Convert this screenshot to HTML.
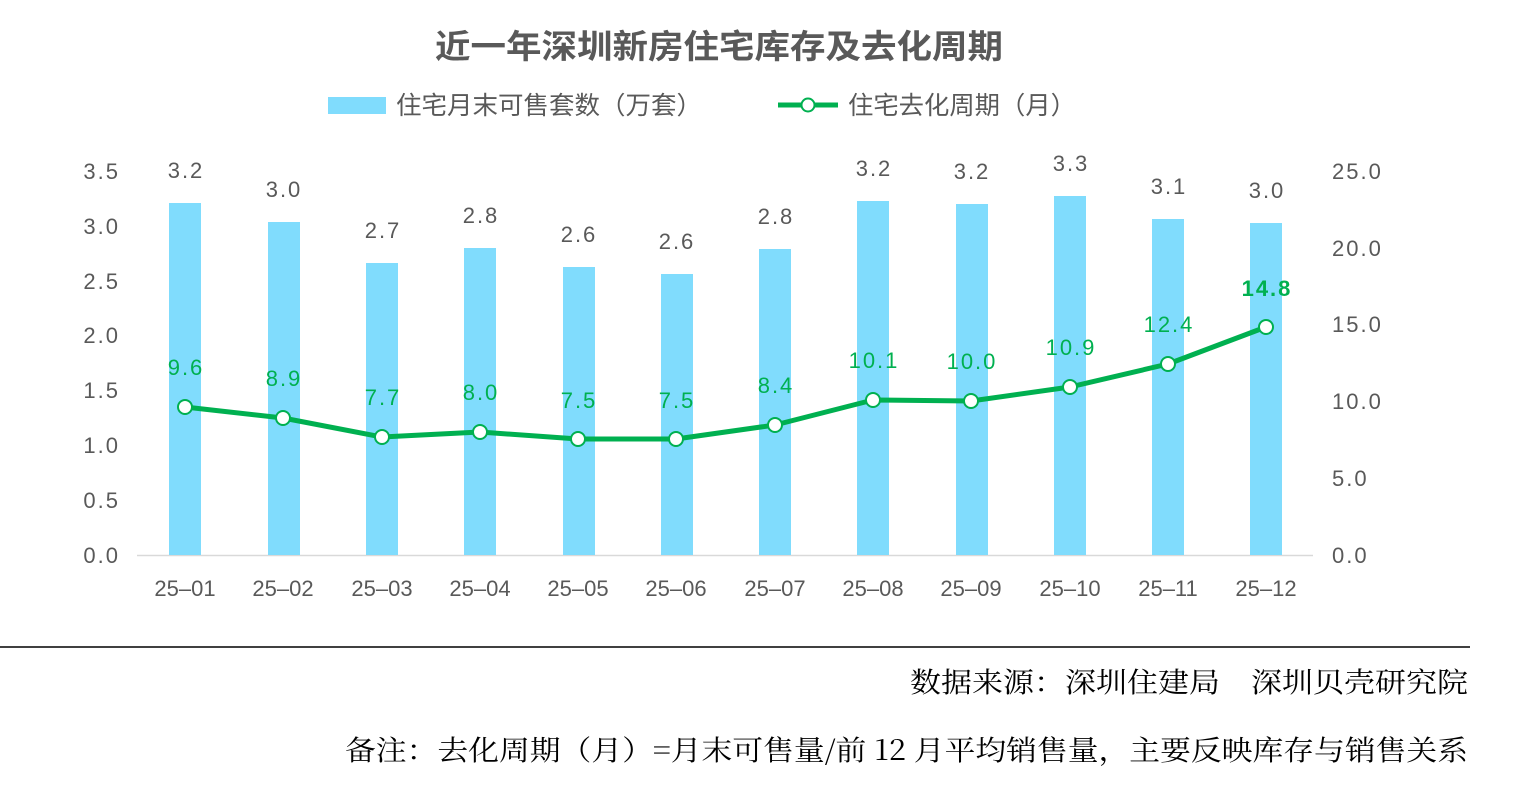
<!DOCTYPE html>
<html><head><meta charset="utf-8"><style>
body{margin:0;background:#fff;width:1520px;height:794px;overflow:hidden}
</style></head><body>
<svg width="1520" height="794" xmlns="http://www.w3.org/2000/svg" style="position:absolute;left:0;top:0">
<g font-family="Liberation Sans, Noto Sans CJK SC, sans-serif">
<text x="435" y="58" textLength="568" lengthAdjust="spacingAndGlyphs" font-size="33" font-weight="bold" fill="#595959" font-family="Noto Sans CJK SC, sans-serif">近一年深圳新房住宅库存及去化周期</text>
<rect x="328" y="97" width="58" height="17" fill="#80dcfd"/>
<text x="396" y="114" textLength="306" lengthAdjust="spacingAndGlyphs" font-size="25" fill="#595959" font-family="Noto Sans CJK SC, sans-serif">住宅月末可售套数（万套）</text>
<line x1="778" y1="105" x2="838" y2="105" stroke="#00b050" stroke-width="5"/>
<circle cx="808" cy="105" r="6.5" fill="#fff" stroke="#00b050" stroke-width="2"/>
<text x="848" y="114" textLength="228" lengthAdjust="spacingAndGlyphs" font-size="25" fill="#595959" font-family="Noto Sans CJK SC, sans-serif">住宅去化周期（月）</text>
<g font-size="22" fill="#595959" letter-spacing="2" text-anchor="end">
<text x="120" y="563">0.0</text><text x="120" y="508">0.5</text><text x="120" y="453">1.0</text><text x="120" y="398">1.5</text><text x="120" y="343">2.0</text><text x="120" y="289">2.5</text><text x="120" y="234">3.0</text><text x="120" y="179">3.5</text>
</g>
<g font-size="22" fill="#595959" letter-spacing="2">
<text x="1332" y="563">0.0</text><text x="1332" y="486">5.0</text><text x="1332" y="409">10.0</text><text x="1332" y="332">15.0</text><text x="1332" y="256">20.0</text><text x="1332" y="179">25.0</text>
</g>
<line x1="137" y1="555.5" x2="1313" y2="555.5" stroke="#d9d9d9" stroke-width="1.5"/>
<g fill="#80dcfd">
<rect x="169" y="203" width="32" height="352"/>
<rect x="268" y="222" width="32" height="333"/>
<rect x="366" y="263" width="32" height="292"/>
<rect x="464" y="248" width="32" height="307"/>
<rect x="563" y="267" width="32" height="288"/>
<rect x="661" y="274" width="32" height="281"/>
<rect x="759" y="249" width="32" height="306"/>
<rect x="857" y="201" width="32" height="354"/>
<rect x="956" y="204" width="32" height="351"/>
<rect x="1054" y="196" width="32" height="359"/>
<rect x="1152" y="219" width="32" height="336"/>
<rect x="1250" y="223" width="32" height="332"/>
</g>
<g font-size="22" fill="#595959" letter-spacing="2" text-anchor="middle">
<text x="186" y="178">3.2</text><text x="284" y="197">3.0</text><text x="383" y="238">2.7</text><text x="481" y="223">2.8</text><text x="579" y="242">2.6</text><text x="677" y="249">2.6</text><text x="776" y="224">2.8</text><text x="874" y="176">3.2</text><text x="972" y="179">3.2</text><text x="1071" y="171">3.3</text><text x="1169" y="194">3.1</text><text x="1267" y="198">3.0</text>
</g>
<g font-size="22" fill="#595959" text-anchor="middle">
<text x="185" y="596">25–01</text><text x="283" y="596">25–02</text><text x="382" y="596">25–03</text><text x="480" y="596">25–04</text><text x="578" y="596">25–05</text><text x="676" y="596">25–06</text><text x="775" y="596">25–07</text><text x="873" y="596">25–08</text><text x="971" y="596">25–09</text><text x="1070" y="596">25–10</text><text x="1168" y="596">25–11</text><text x="1266" y="596">25–12</text>
</g>
<polyline fill="none" stroke="#00b050" stroke-width="5" stroke-linejoin="round" points="185,407 283,418 382,437 480,432 578,439 676,439 775,425 873,400 971,401 1070,387 1168,364 1266,327"/>
<g fill="#fff" stroke="#00b050" stroke-width="2">
<circle cx="185" cy="407" r="7"/><circle cx="283" cy="418" r="7"/><circle cx="382" cy="437" r="7"/><circle cx="480" cy="432" r="7"/><circle cx="578" cy="439" r="7"/><circle cx="676" cy="439" r="7"/><circle cx="775" cy="425" r="7"/><circle cx="873" cy="400" r="7"/><circle cx="971" cy="401" r="7"/><circle cx="1070" cy="387" r="7"/><circle cx="1168" cy="364" r="7"/><circle cx="1266" cy="327" r="7"/>
</g>
<g font-size="22" fill="#00b050" letter-spacing="2" text-anchor="middle">
<text x="186" y="375">9.6</text><text x="284" y="386">8.9</text><text x="383" y="405">7.7</text><text x="481" y="400">8.0</text><text x="579" y="408">7.5</text><text x="677" y="408">7.5</text><text x="776" y="393">8.4</text><text x="874" y="368">10.1</text><text x="972" y="369">10.0</text><text x="1071" y="355">10.9</text><text x="1169" y="332">12.4</text><text x="1267" y="296" font-weight="bold">14.8</text>
</g>
<line x1="0" y1="647" x2="1470" y2="647" stroke="#000" stroke-width="1.5"/>
<g font-family="Noto Serif CJK SC, Liberation Serif, serif" font-size="28" fill="#000">
<text x="910" y="692" textLength="558" lengthAdjust="spacingAndGlyphs">数据来源：深圳住建局　深圳贝壳研究院</text>
<text x="345" y="760" textLength="1123" lengthAdjust="spacingAndGlyphs">备注：去化周期（月）=月末可售量/前 12 月平均销售量，主要反映库存与销售关系</text>
</g>
</g>
</svg>
</body></html>
